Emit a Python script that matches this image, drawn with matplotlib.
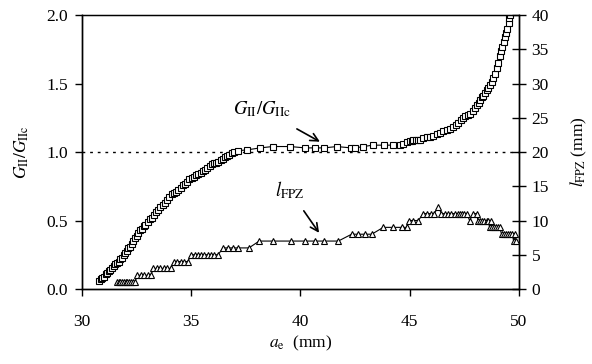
import matplotlib
matplotlib.use("Agg")
import matplotlib.pyplot as plt

plt.rcParams["font.family"] = ["Liberation Serif", "DejaVu Serif"]
plt.rcParams["mathtext.fontset"] = "stix"

# G_II / G_IIc against effective crack length a_e (mm)
g_x = [30.78, 30.85, 30.92, 31.00, 31.08, 31.15, 31.22, 31.30, 31.38, 31.45,
       31.52, 31.60, 31.68, 31.75, 31.82, 31.90, 31.97, 32.05, 32.12, 32.20,
       32.27, 32.35, 32.43, 32.50, 32.58, 32.66, 32.74, 32.82, 32.90, 33.00,
       33.10, 33.19, 33.29, 33.39, 33.49, 33.59, 33.69, 33.80, 33.90, 34.00,
       34.10, 34.20, 34.30, 34.41, 34.51, 34.61, 34.71, 34.82, 34.92, 35.02,
       35.12, 35.22, 35.32, 35.43, 35.53, 35.63, 35.73, 35.84, 35.94, 36.04,
       36.14, 36.24, 36.34, 36.44, 36.54, 36.65, 36.75, 36.85, 36.95, 37.12,
       37.54, 38.15, 38.73, 39.52, 40.21, 40.66, 41.09, 41.66, 42.31, 42.49,
       42.88, 43.30, 43.84, 44.22, 44.55, 44.70, 44.86, 45.00, 45.09, 45.16,
       45.30, 45.39, 45.47, 45.62, 45.78, 45.92, 46.08, 46.23, 46.38, 46.53,
       46.69, 46.84, 47.00, 47.10, 47.22, 47.33, 47.45, 47.55, 47.66, 47.76,
       47.88, 47.99, 48.07, 48.15, 48.22, 48.30, 48.37, 48.44, 48.52, 48.60,
       48.67, 48.75, 48.83, 48.90, 48.98, 49.05, 49.13, 49.19, 49.24, 49.30,
       49.36, 49.42, 49.47, 49.52, 49.56, 49.60]
g_ratio = [0.06, 0.07, 0.08, 0.09, 0.11, 0.12, 0.13, 0.14, 0.15, 0.17,
           0.18, 0.19, 0.20, 0.22, 0.23, 0.25, 0.26, 0.28, 0.30, 0.31,
           0.33, 0.35, 0.37, 0.39, 0.41, 0.43, 0.44, 0.46, 0.47, 0.49,
           0.51, 0.52, 0.54, 0.56, 0.58, 0.60, 0.61, 0.63, 0.65, 0.67,
           0.69, 0.70, 0.71, 0.72, 0.74, 0.76, 0.77, 0.78, 0.80, 0.81,
           0.82, 0.83, 0.84, 0.85, 0.86, 0.87, 0.88, 0.90, 0.91, 0.92,
           0.92, 0.93, 0.94, 0.95, 0.96, 0.97, 0.98, 0.99, 1.00, 1.01,
           1.015, 1.03, 1.04, 1.04, 1.03, 1.03, 1.03, 1.04, 1.03, 1.03,
           1.04, 1.05, 1.05, 1.05, 1.05, 1.06, 1.07, 1.08, 1.08, 1.09,
           1.09, 1.09, 1.09, 1.10, 1.11, 1.11, 1.12, 1.13, 1.14, 1.15,
           1.16, 1.17, 1.18, 1.20, 1.21, 1.23, 1.25, 1.26, 1.27, 1.28,
           1.30, 1.32, 1.34, 1.36, 1.38, 1.40, 1.41, 1.43, 1.45, 1.47,
           1.49, 1.51, 1.54, 1.57, 1.61, 1.65, 1.70, 1.74, 1.77, 1.80,
           1.84, 1.87, 1.90, 1.94, 1.98, 2.00]

# fracture process zone length l_FPZ (mm)
fpz_x = [31.60, 31.68, 31.76, 31.84, 31.92, 32.00, 32.08, 32.16, 32.24, 32.32, 32.43,
         32.52, 32.68, 32.84, 33.00, 33.16,
         33.26, 33.42, 33.58, 33.74, 33.90, 34.06,
         34.20, 34.36, 34.52, 34.68, 34.84,
         35.00, 35.15, 35.30, 35.45, 35.60, 35.75, 35.90, 36.05, 36.22,
         36.47, 36.68, 36.90, 37.12, 37.64,
         38.11, 38.76, 39.55, 40.20, 40.66, 41.08, 41.73,
         42.34, 42.65, 42.95, 43.26,
         43.79, 44.25, 44.63, 44.86,
         44.95, 45.16, 45.39,
         45.62, 45.78, 45.95, 46.12, 46.31, 46.45, 46.60, 46.75, 46.90, 47.05,
         47.20, 47.30, 47.40, 47.50, 47.61, 47.74, 47.91, 48.06,
         48.12, 48.22, 48.32, 48.42, 48.52, 48.60, 48.65, 48.72, 48.75, 48.85,
         48.95, 49.05, 49.12, 49.20, 49.30, 49.40, 49.50, 49.60, 49.70, 49.75,
         49.80, 49.85]
fpz_len = [1, 1, 1, 1, 1, 1, 1, 1, 1, 1, 1,
           2, 2, 2, 2, 2,
           3, 3, 3, 3, 3, 3,
           4, 4, 4, 4, 4,
           5, 5, 5, 5, 5, 5, 5, 5, 5,
           6, 6, 6, 6, 6,
           7, 7, 7, 7, 7, 7, 7,
           8, 8, 8, 8,
           9, 9, 9, 9,
           10, 10, 10,
           11, 11, 11, 11, 12, 11, 11, 11, 11, 11,
           11, 11, 11, 11, 11, 10, 11, 11,
           10, 10, 10, 10, 10, 10, 9, 10, 9, 9,
           9, 9, 9, 8, 8, 8, 8, 8, 8, 7,
           8, 7]

fig = plt.figure(figsize=(5.92, 3.64), dpi=100)
ax = fig.add_axes([0.1385, 0.206, 0.7382, 0.7528])
ax2 = ax.twinx()

ax.plot(g_x, g_ratio, color="black", lw=0.8, marker="s", ms=3.8,
        mfc="white", mec="black", mew=0.8, zorder=3)
ax.axhline(1.0, color="black", lw=1.0, ls=(0, (2, 3.5)), zorder=2)
ax2.plot(fpz_x, fpz_len, color="black", lw=0.8, marker="^", ms=4.4,
         mfc="white", mec="black", mew=0.8, zorder=3)

ax.set_xlim(30, 50)
ax.set_ylim(0, 2.0)
ax2.set_ylim(0, 40)
ax.set_xticks([30, 35, 40, 45, 50])
ax.set_yticks([0.0, 0.5, 1.0, 1.5, 2.0])
ax.set_yticklabels(["0.0", "0.5", "1.0", "1.5", "2.0"])
ax2.set_yticks(range(0, 41, 5))

ax.tick_params(axis="both", direction="out", length=5, width=1.0,
               labelsize=12.5, pad=5)
ax.tick_params(axis="x", pad=13)
ax2.tick_params(axis="y", direction="inout", length=10, width=1.0,
                labelsize=12.5, pad=4)
for sp in list(ax.spines.values()) + list(ax2.spines.values()):
    sp.set_linewidth(1.0)
ax.spines["top"].set_linewidth(0.8)

ax.set_xlabel(r"$a_{\mathrm{e}}$  (mm)", fontsize=12.5, labelpad=3)
ax.set_ylabel(r"$G_{\mathrm{II}}/G_{\mathrm{IIc}}$", fontsize=12.5, labelpad=11)
ax2.set_ylabel(r"$l_{\mathrm{FPZ}}$ (mm)", fontsize=12.5, rotation=90, labelpad=14)

ax.annotate(r"$G_{\mathrm{II}}/G_{\mathrm{IIc}}$", xy=(40.89, 1.075),
            xytext=(38.24, 1.31), fontsize=13.5, ha="center", va="center",
            arrowprops=dict(arrowstyle="->", lw=1.2, color="black",
                            shrinkA=10, shrinkB=0, mutation_scale=14))
ax.annotate(r"$l_{\mathrm{FPZ}}$", xy=(40.85, 0.41),
            xytext=(39.5, 0.72), fontsize=13.5, ha="center", va="center",
            arrowprops=dict(arrowstyle="->", lw=1.2, color="black",
                            shrinkA=6, shrinkB=0, mutation_scale=14))

fig.savefig("out.png", dpi=100)
